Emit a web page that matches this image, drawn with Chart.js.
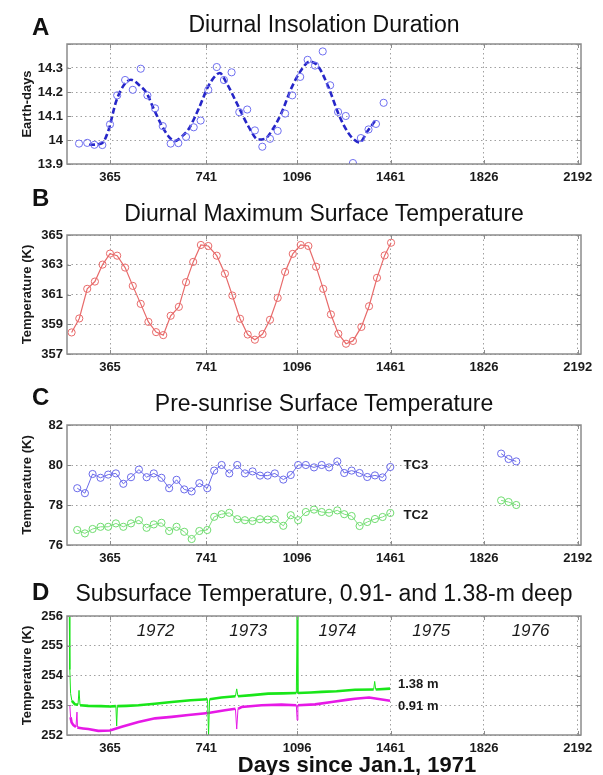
<!DOCTYPE html>
<html>
<head>
<meta charset="utf-8">
<script src="https://cdn.jsdelivr.net/npm/chart.js@4.4.1/dist/chart.umd.min.js"></script>
<style>
  body { margin: 0; background: #fff; }
  #page { position: relative; width: 603px; height: 775px; font-family: "Liberation Sans", Arial, sans-serif; color: #111; }
  #page canvas { position: absolute; left: 0; }
  .title { position: absolute; left: 67px; width: 514px; text-align: center; font-size: 23px; line-height: 26px; white-space: nowrap; z-index: 2; }
  .letter { position: absolute; left: 32px; font-size: 24px; font-weight: bold; line-height: 28px; z-index: 2; }
  .xtitle { position: absolute; left: 157px; width: 400px; top: 753px; text-align: center; font-size: 22px; font-weight: bold; line-height: 24px; white-space: nowrap; z-index: 2; }
</style>
</head>
<body>
<div id="page">
  <div class="letter" style="top:13px">A</div>
  <div class="title" style="top:11px">Diurnal Insolation Duration</div>
  <div class="letter" style="top:184px">B</div>
  <div class="title" style="top:200px">Diurnal Maximum Surface Temperature</div>
  <div class="letter" style="top:383px">C</div>
  <div class="title" style="top:390px">Pre-sunrise Surface Temperature</div>
  <div class="letter" style="top:578px">D</div>
  <div class="title" style="top:580px">Subsurface Temperature, 0.91- and 1.38-m deep</div>
  <div class="xtitle">Days since Jan.1, 1971</div>

  <canvas id="chart-a" width="603" height="190" style="top:0px"></canvas>
  <canvas id="chart-b" width="603" height="190" style="top:190px"></canvas>
  <canvas id="chart-c" width="603" height="190" style="top:380px"></canvas>
  <canvas id="chart-d" width="603" height="190" style="top:570px"></canvas>
</div>

<script>
// x axis (days since Jan 1, 1971), shared by all panels
const X_MIN = 197;
const X_MAX = 2205;
const xTicks = [365, 741, 1096, 1461, 1826, 2192];

// A - diurnal insolation duration
const insolDays = [244, 276, 304, 335, 365, 393, 424, 454, 485, 511, 541, 571, 602, 632, 662, 692, 719, 749, 782, 810,
  840, 870, 901, 931, 960, 990, 1020, 1049, 1077, 1108, 1137, 1166, 1196, 1225, 1256, 1286, 1314, 1345, 1375, 1404, 1434];
const insolValues = [13.985, 13.988, 13.98, 13.979, 14.065, 14.186, 14.25, 14.209, 14.297, 14.186, 14.132, 14.058, 13.985, 13.987,
  14.013, 14.053, 14.081, 14.209, 14.304, 14.25, 14.282, 14.116, 14.127, 14.04, 13.972, 14.005, 14.038, 14.11, 14.186, 14.263,
  14.334, 14.31, 14.369, 14.228, 14.117, 14.1, 13.904, 14.008, 14.044, 14.067, 14.155];
const insolFitDays = [283, 332, 358, 389, 420, 447, 482, 508, 534, 565, 596, 619, 647, 673, 710, 749, 775, 794, 820, 866,
  905, 944, 970, 1002, 1035, 1074, 1113, 1145, 1178, 1217, 1256, 1279, 1310, 1340, 1370, 1400];
const insolFitValues = [13.98, 13.985, 14.037, 14.161, 14.23, 14.251, 14.226, 14.196, 14.134, 14.065, 14.012, 13.996, 14.016,
  14.047, 14.127, 14.224, 14.265, 14.279, 14.238, 14.141, 14.058, 14.002, 14.005, 14.047, 14.113, 14.217, 14.293, 14.327,
  14.307, 14.224, 14.113, 14.06, 14.01, 13.99, 14.035, 14.079];
const insolTicks = [13.9, 14, 14.1, 14.2, 14.3, 14.4];

// B - diurnal maximum surface temperature
const maxTempDays = [215, 245, 276, 306, 336, 365, 393, 424, 454, 485, 515, 545, 573, 602, 634, 662, 690, 720, 749, 782,
  814, 843, 873, 903, 931, 961, 990, 1020, 1049, 1079, 1110, 1140, 1170, 1198, 1228, 1257, 1287, 1314, 1347, 1377, 1408, 1438, 1463];
const maxTempValues = [358.45, 359.39, 361.38, 361.87, 363.01, 363.75, 363.61, 362.81, 361.58, 360.37, 359.16, 358.47, 358.27,
  359.57, 360.17, 361.83, 363.19, 364.33, 364.26, 363.61, 362.4, 360.93, 359.37, 358.31, 357.96, 358.34, 359.3, 360.77,
  362.52, 363.73, 364.33, 364.26, 362.87, 361.38, 359.66, 358.36, 357.69, 357.88, 358.82, 360.21, 362.12, 363.63, 364.48];
const maxTempTicks = [357, 359, 361, 363, 365];

// C - pre-sunrise surface temperature (TC3 / TC2), two observation spans
const sunriseDays = [237, 267, 297, 328, 358, 388, 417, 447, 478, 508, 536, 566, 596, 625, 655, 684, 714, 745, 772, 801,
  831, 862, 892, 922, 951, 981, 1009, 1042, 1071, 1100, 1130, 1162, 1192, 1221, 1253, 1280, 1309, 1340, 1370, 1400, 1430, 1460];
const tc3Values = [78.84, 78.59, 79.55, 79.36, 79.52, 79.58, 79.06, 79.39, 79.77, 79.39, 79.58, 79.36, 78.84, 79.26, 78.78,
  78.68, 79.09, 78.84, 79.72, 80.0, 79.58, 80.0, 79.58, 79.68, 79.47, 79.47, 79.58, 79.27, 79.5, 80.0, 80.0, 79.88, 80.0,
  79.88, 80.18, 79.6, 79.72, 79.6, 79.4, 79.48, 79.38, 79.9];
const tc2Values = [76.75, 76.58, 76.8, 76.91, 76.91, 77.08, 76.91, 77.08, 77.24, 76.86, 77.03, 77.11, 76.7, 76.91, 76.66,
  76.3, 76.7, 76.75, 77.41, 77.54, 77.61, 77.29, 77.24, 77.2, 77.29, 77.27, 77.29, 76.96, 77.49, 77.24, 77.65, 77.77, 77.65,
  77.61, 77.73, 77.54, 77.45, 76.95, 77.15, 77.3, 77.4, 77.6];
const lateDays = [1893, 1922, 1952];
const tc3LateValues = [80.57, 80.3, 80.18];
const tc2LateValues = [78.23, 78.15, 78.0];
const sunriseTicks = [76, 78, 80, 82];

// D - subsurface temperature
const deepDays = [206, 208, 211, 216, 228, 240, 244, 248, 280, 330, 365, 388, 391, 394, 430, 476, 540, 606, 680, 746,
  750, 754, 800, 855, 860, 865, 920, 983, 1040, 1093, 1096, 1099, 1150, 1192, 1250, 1322, 1395, 1399, 1403, 1459];
const deepValues = [256, 254.2, 253.4, 253.15, 253.03, 253.02, 253.5, 253.0, 252.98, 252.97, 252.96, 252.97, 252.3, 252.97,
  252.98, 253.0, 253.05, 253.11, 253.17, 253.2, 252.0, 253.2, 253.26, 253.3, 253.55, 253.3, 253.34, 253.39, 253.4, 253.41,
  256, 253.41, 253.43, 253.45, 253.47, 253.52, 253.53, 253.8, 253.53, 253.56];
const shallowDays = [208, 211, 215, 222, 232, 236, 238, 242, 260, 280, 319, 365, 411, 476, 541, 606, 671, 749, 814, 855,
  860, 865, 879, 957, 1035, 1093, 1096, 1099, 1166, 1231, 1296, 1322, 1377, 1459];
const shallowValues = [253.0, 252.6, 252.42, 252.33, 252.27, 252.77, 252.26, 252.24, 252.22, 252.2, 252.14, 252.15, 252.28,
  252.44, 252.56, 252.61, 252.67, 252.74, 252.83, 252.88, 252.2, 252.88, 252.94, 253.0, 253.02, 253.0, 252.5, 253.0, 253.03,
  253.11, 253.19, 253.22, 253.26, 253.15];
const subsurfTicks = [252, 253, 254, 255, 256];
const yearLabels = ["1972", "1973", "1974", "1975", "1976"];
const yearDays = [543, 905, 1253, 1620, 2008];

const FONT = '"Liberation Sans", Arial, sans-serif';
const GRID = "#a0a0a0";

function points(xs, ys) {
  return xs.map((x, i) => ({ x: x, y: ys[i] }));
}

// box + inward ticks + text labels placed in data coords
const framePlugin = {
  id: "frame",
  afterDraw(chart, args, opts) {
    const { ctx, chartArea: a, scales } = chart;
    ctx.save();
    ctx.strokeStyle = "#8c8c8c";
    ctx.lineWidth = 1.5;
    ctx.strokeRect(a.left, a.top, a.right - a.left, a.bottom - a.top);
    ctx.lineWidth = 1;
    ctx.beginPath();
    scales.x.ticks.forEach((t) => {
      const px = Math.round(scales.x.getPixelForValue(t.value)) + 0.5;
      ctx.moveTo(px, a.bottom); ctx.lineTo(px, a.bottom - 4);
      ctx.moveTo(px, a.top); ctx.lineTo(px, a.top + 4);
    });
    scales.y.ticks.forEach((t) => {
      const py = Math.round(scales.y.getPixelForValue(t.value)) + 0.5;
      ctx.moveTo(a.left, py); ctx.lineTo(a.left + 4, py);
      ctx.moveTo(a.right, py); ctx.lineTo(a.right - 4, py);
    });
    ctx.stroke();
    ctx.fillStyle = "#1a1a1a";
    ctx.textBaseline = "middle";
    (opts.labels || []).forEach((l) => {
      ctx.font = l.font;
      ctx.textAlign = l.align || "left";
      ctx.fillText(l.text, scales.x.getPixelForValue(l.x), scales.y.getPixelForValue(l.y));
    });
    ctx.restore();
  },
};

function makePanel(id, datasets, yMin, yMax, yTicks, yTitle, hideTicks, top, bottom, labels) {
  return new Chart(document.getElementById(id), {
    type: "line",
    data: { datasets: datasets },
    plugins: [framePlugin],
    options: {
      responsive: false,
      animation: false,
      devicePixelRatio: 1,
      layout: { padding: { top: top, right: 22, bottom: 0, left: 0 } },
      plugins: { legend: { display: false }, tooltip: { enabled: false }, frame: { labels: labels } },
      scales: {
        x: {
          type: "linear",
          min: X_MIN,
          max: X_MAX,
          afterBuildTicks: (s) => { s.ticks = xTicks.map((v) => ({ value: v })); },
          afterFit: (s) => { s.height = 190 - bottom; },
          grid: { color: GRID, drawTicks: false },
          border: { display: false, dash: [1.5, 3] },
          ticks: { padding: 6, color: "#1a1a1a", font: { family: FONT, size: 13, weight: "bold" }, callback: (v) => String(v), maxRotation: 0, autoSkip: false },
        },
        y: {
          min: yMin,
          max: yMax,
          afterBuildTicks: (s) => { s.ticks = yTicks.map((v) => ({ value: v })); },
          afterFit: (s) => { s.width = 67; },
          grid: { color: GRID, drawTicks: false },
          border: { display: false, dash: [1.5, 3] },
          ticks: { padding: 4, color: "#1a1a1a", font: { family: FONT, size: 13, weight: "bold" },
            callback: (v) => (hideTicks.includes(v) ? "" : String(v)) },
          title: { display: true, text: yTitle, color: "#1a1a1a", font: { family: FONT, size: 13, weight: "bold" }, padding: { top: 20, bottom: 0 } },
        },
      },
    },
  });
}

const circle = (color) => ({
  pointStyle: "circle", pointRadius: 3.6, pointBorderWidth: 1, pointBorderColor: color, pointBackgroundColor: "rgba(0,0,0,0)",
});

// the noisy records are drawn thick, the sharp glitches thin
const thinSpikes = { borderWidth: (c) => (Math.abs(c.p1.parsed.y - c.p0.parsed.y) > 0.2 ? 1 : 2.6) };

makePanel("chart-a", [
  Object.assign({ data: points(insolDays, insolValues), showLine: false, borderColor: "#6f6ff0" }, circle("#6f6ff0")),
  { data: points(insolFitDays, insolFitValues), borderColor: "#2626c8", borderWidth: 2.6, borderDash: [6, 3], pointRadius: 0, tension: 0.35, cubicInterpolationMode: "monotone" },
], 13.9, 14.4, insolTicks, "Earth-days", [14.4], 44, 164, []);

makePanel("chart-b", [
  Object.assign({ data: points(maxTempDays, maxTempValues), borderColor: "#e86a6a", borderWidth: 1.2 }, circle("#e86a6a")),
], 357, 365, maxTempTicks, "Temperature (K)", [], 45, 164, []);

const labelFont = "bold 13px " + FONT;
makePanel("chart-c", [
  Object.assign({ data: points(sunriseDays, tc3Values), borderColor: "#6b6bea", borderWidth: 1 }, circle("#6b6bea")),
  Object.assign({ data: points(lateDays, tc3LateValues), borderColor: "#6b6bea", borderWidth: 1 }, circle("#6b6bea")),
  Object.assign({ data: points(sunriseDays, tc2Values), borderColor: "#7ee07e", borderWidth: 1 }, circle("#6fdc6f")),
  Object.assign({ data: points(lateDays, tc2LateValues), borderColor: "#7ee07e", borderWidth: 1 }, circle("#6fdc6f")),
], 76, 82, sunriseTicks, "Temperature (K)", [], 45, 165, [
  { text: "TC3", x: 1512, y: 80.0, font: labelFont },
  { text: "TC2", x: 1512, y: 77.5, font: labelFont },
]);

makePanel("chart-d", [
  { data: points(deepDays, deepValues), borderColor: "#19e619", borderWidth: 2.6, pointRadius: 0, segment: thinSpikes },
  { data: points(shallowDays, shallowValues), borderColor: "#e619e6", borderWidth: 2.6, pointRadius: 0, segment: thinSpikes },
], 252, 256, subsurfTicks, "Temperature (K)", [], 46, 165,
  yearLabels.map((t, i) => ({ text: t, x: yearDays[i], y: 255.5, align: "center", font: "italic 17px " + FONT })).concat([
    { text: "1.38 m", x: 1490, y: 253.7, font: labelFont },
    { text: "0.91 m", x: 1490, y: 252.95, font: labelFont },
  ]));
</script>
</body>
</html>
